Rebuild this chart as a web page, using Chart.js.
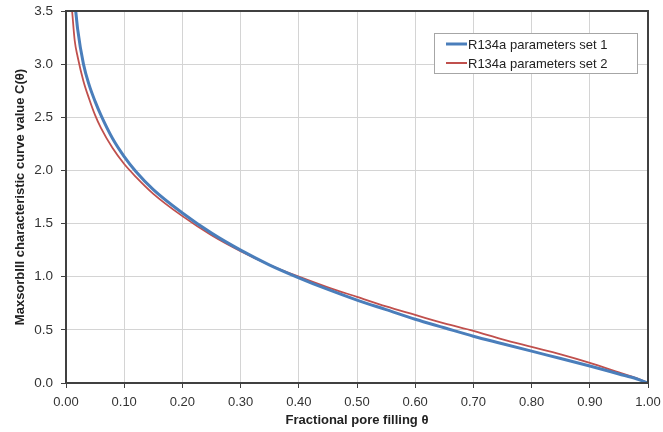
<!DOCTYPE html>
<html>
<head>
<meta charset="utf-8">
<script src="https://cdn.jsdelivr.net/npm/chart.js@4/dist/chart.umd.min.js"></script>
<style>
  html, body { margin: 0; padding: 0; background: #fff; }
  #wrap { width: 663px; height: 432px; }
</style>
</head>
<body>
<div id="wrap"><canvas id="myChart" width="663" height="432"></canvas></div>
<script>
// values
var seriesNames = ['R134a parameters set 1', 'R134a parameters set 2'];
var lineColors = ['#4a7ebb', '#c0504d'];

var theta1 = [0.0167, 0.02, 0.03, 0.04, 0.05, 0.06, 0.08, 0.10, 0.12, 0.15, 0.20, 0.25, 0.30, 0.35, 0.40, 0.45, 0.50, 0.55, 0.60, 0.65, 0.70, 0.75, 0.80, 0.85, 0.90, 0.95, 0.98, 1.00];
var curve1 = [3.50, 3.33, 3.00, 2.80, 2.65, 2.52, 2.30, 2.13, 1.99, 1.82, 1.60, 1.41, 1.25, 1.11, 0.99, 0.88, 0.78, 0.69, 0.60, 0.52, 0.44, 0.37, 0.30, 0.23, 0.16, 0.085, 0.04, 0.00];

var theta2 = [0.0105, 0.015, 0.02, 0.03, 0.04, 0.05, 0.06, 0.08, 0.10, 0.12, 0.15, 0.20, 0.25, 0.30, 0.35, 0.40, 0.45, 0.50, 0.55, 0.60, 0.65, 0.70, 0.75, 0.80, 0.85, 0.90, 0.95, 0.98, 1.00];
var curve2 = [3.50, 3.22, 3.07, 2.84, 2.67, 2.52, 2.40, 2.21, 2.06, 1.94, 1.78, 1.57, 1.39, 1.24, 1.11, 1.00, 0.90, 0.81, 0.72, 0.64, 0.56, 0.49, 0.41, 0.34, 0.27, 0.19, 0.10, 0.045, 0.00];

var xTicks = [0, 0.1, 0.2, 0.3, 0.4, 0.5, 0.6, 0.7, 0.8, 0.9, 1.0];
var yTicks = [0, 0.5, 1.0, 1.5, 2.0, 2.5, 3.0, 3.5];

function toPoints(xs, ys) {
  return xs.map(function(x, i) { return {x: x, y: ys[i]}; });
}

// keep the plot box fixed: no extra room for edge labels
function noEdgePadding(s) {
  s.paddingTop = 0; s.paddingBottom = 0; s.paddingLeft = 0; s.paddingRight = 0;
}

Chart.defaults.font.family = '"Liberation Sans", Arial, sans-serif';
Chart.defaults.color = '#333';

// frame round the plot area plus the legend box inside it
var framePlugin = {
  id: 'frame',
  afterDatasetsDraw: function(chart) {
    var a = chart.chartArea, c = chart.ctx;
    c.save();
    c.strokeStyle = '#404040';
    c.lineWidth = 2;
    c.strokeRect(a.left, a.top, a.right - a.left, a.bottom - a.top);

    var bx = 434, by = 33, bw = 203, bh = 40;
    c.fillStyle = '#fff';
    c.fillRect(bx, by, bw, bh);
    c.strokeStyle = '#a6a6a6';
    c.lineWidth = 1;
    c.strokeRect(bx + 0.5, by + 0.5, bw, bh);
    c.font = '13px "Liberation Sans", Arial, sans-serif';
    c.textBaseline = 'middle';
    for (var i = 0; i < seriesNames.length; i++) {
      var yy = by + 11 + i * 19;
      c.strokeStyle = lineColors[i];
      c.lineWidth = i == 0 ? 3 : 2;
      c.beginPath();
      c.moveTo(bx + 12, yy);
      c.lineTo(bx + 33, yy);
      c.stroke();
      c.fillStyle = '#222';
      c.fillText(seriesNames[i], bx + 34, yy + 1);
    }
    c.restore();
  }
};

new Chart(document.getElementById('myChart'), {
  type: 'line',
  data: {
    datasets: [{
      label: seriesNames[0],
      data: toPoints(theta1, curve1),
      borderColor: lineColors[0],
      borderWidth: 3,
      pointRadius: 0,
      cubicInterpolationMode: 'monotone'
    }, {
      label: seriesNames[1],
      data: toPoints(theta2, curve2),
      borderColor: lineColors[1],
      borderWidth: 1.8,
      pointRadius: 0,
      cubicInterpolationMode: 'monotone'
    }]
  },
  options: {
    responsive: false,
    animation: false,
    layout: { padding: { top: 11, right: 15, left: 0, bottom: 0 } },
    plugins: { legend: { display: false }, tooltip: { enabled: false } },
    scales: {
      x: {
        type: 'linear',
        min: 0, max: 1,
        afterBuildTicks: function(s) { s.ticks = xTicks.map(function(v) { return {value: v}; }); },
        afterFit: function(s) { s.height = 49; noEdgePadding(s); },
        ticks: {
          font: { size: 13 }, color: '#333', padding: 7, maxRotation: 0,
          callback: function(v) { return v.toFixed(2); }
        },
        grid: { color: '#d4d4d4', borderDash: [1, 1], tickColor: '#404040', tickLength: 5, tickBorderDash: [] },
        border: { display: false },
        title: { display: true, text: 'Fractional pore filling θ', font: { size: 13, weight: 'bold' }, color: '#222', padding: { top: 2 } }
      },
      y: {
        min: 0, max: 3.5,
        afterBuildTicks: function(s) { s.ticks = yTicks.map(function(v) { return {value: v}; }); },
        afterFit: function(s) { s.width = 66; noEdgePadding(s); },
        ticks: {
          font: { size: 13.5 }, color: '#333', padding: 8,
          callback: function(v) { return v.toFixed(1); }
        },
        grid: { color: '#d4d4d4', borderDash: [1, 1], tickColor: '#404040', tickLength: 5, tickBorderDash: [] },
        border: { display: false },
        title: { display: true, text: 'MaxsorbIII characteristic curve value C(θ)', font: { size: 13, weight: 'bold' }, color: '#222', padding: { top: 13, bottom: 2 } }
      }
    }
  },
  plugins: [framePlugin]
});
</script>
</body>
</html>
